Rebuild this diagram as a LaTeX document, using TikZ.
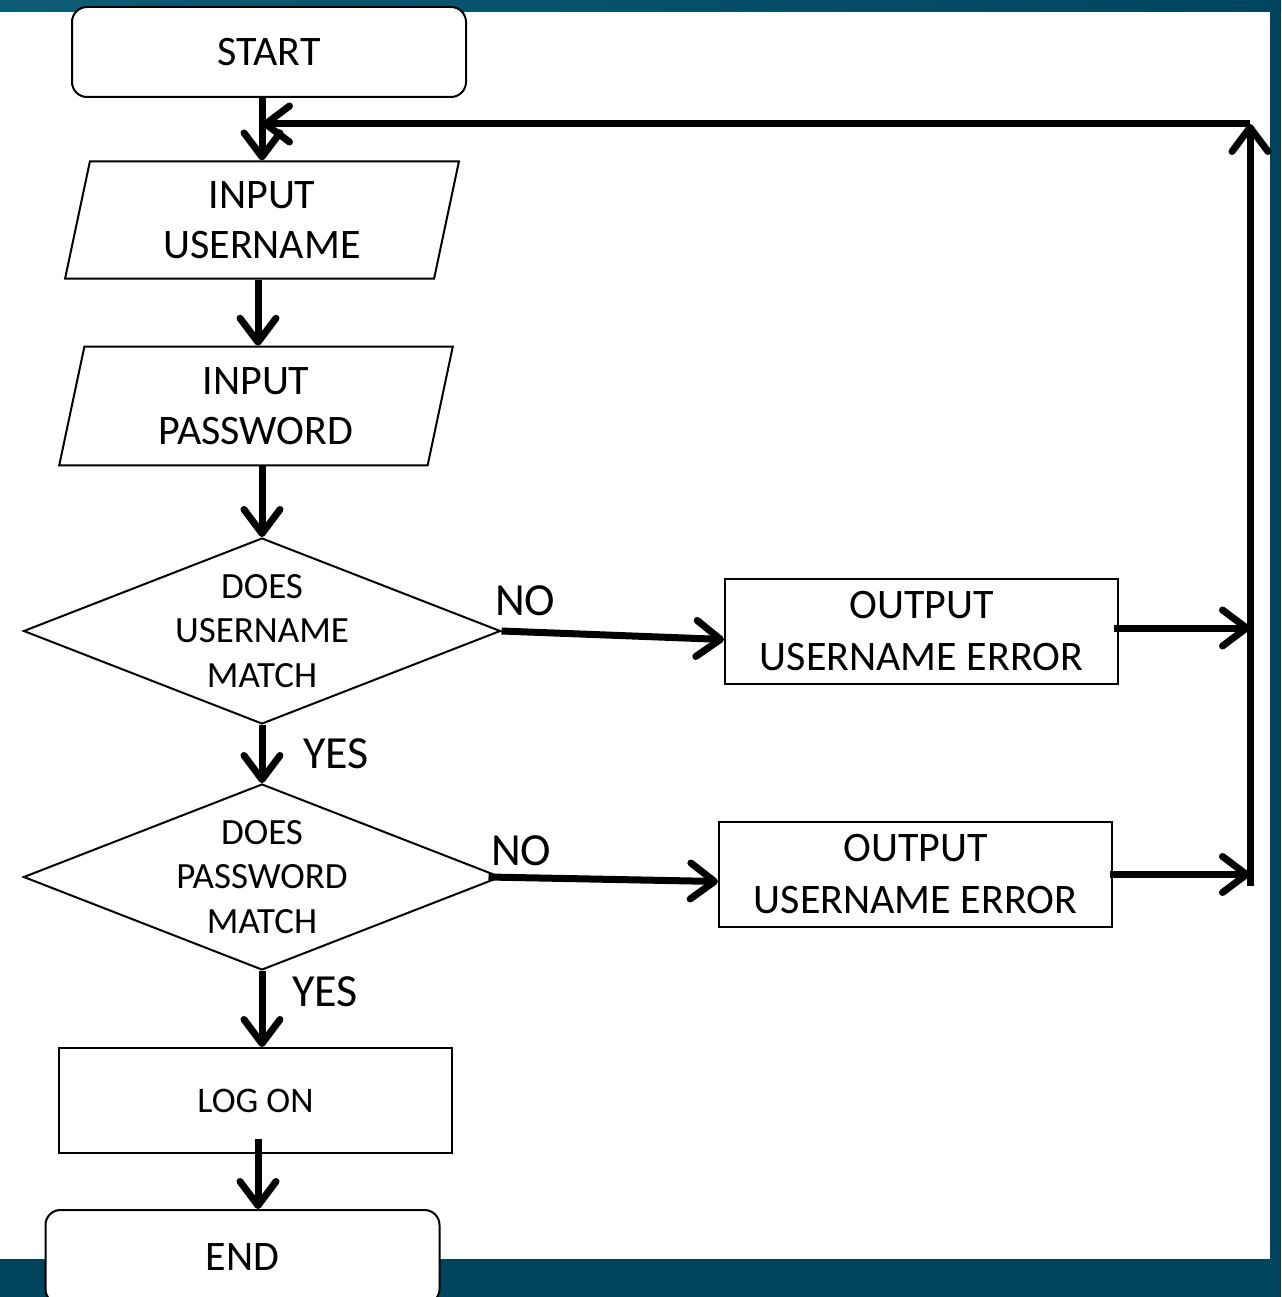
\documentclass[tikz,border=0pt]{standalone}
\usepackage{fontspec}
\setmainfont{Carlito}
\usetikzlibrary{shapes.geometric, arrows.meta}
\definecolor{slidebg}{HTML}{00445E}
\definecolor{slidetop}{HTML}{0D5C75}
\tikzstyle{startstop} = [rectangle, rounded corners=15pt, minimum width=394pt, minimum height=90pt, text centered, draw=black, line width=2pt, fill=white, font=\fontsize{42}{50}\selectfont]
\tikzstyle{io} = [trapezium, trapezium left angle=78, trapezium right angle=102, inner ysep=-4pt, minimum width=394pt, minimum height=112pt, text centered, align=center, draw=black, line width=2pt, fill=white, font=\fontsize{42}{50}\selectfont]
\tikzstyle{process} = [rectangle, minimum width=393pt, minimum height=105pt, text centered, align=center, draw=black, line width=2pt, fill=white, font=\fontsize{42}{52}\selectfont]
\tikzstyle{smallprocess} = [process, font=\fontsize{36}{44}\selectfont]
\tikzstyle{decision} = [diamond, aspect=2.56, inner sep=-4pt, minimum width=477pt, minimum height=186pt, text centered, align=center, draw=black, line width=2pt, fill=white, font=\fontsize{37}{44.5}\selectfont]
\tikzstyle{arrow} = [line width=7pt, -{Straight Barb[length=24pt, width=36pt, round]}]
\tikzstyle{branch} = [inner sep=0pt, font=\fontsize{46}{50}\selectfont]

\begin{document}
\begin{tikzpicture}[x=1pt, y=-1pt]
\fill[slidebg] (0,0) rectangle (1281,1297);
\shade[left color=slidetop, right color=slidebg] (0,0) rectangle (1281,12);
\fill[white] (0,12) rectangle (1270,1259);
\useasboundingbox (0,0) rectangle (1281,1297);

\node (start) [startstop] at (269,52) {START};
\node (inU) [io] at (262,220) {INPUT\\USERNAME};
\node (inP) [io] at (256,406) {INPUT\\PASSWORD};
\node (d1) [decision] at (262,631) {DOES\\USERNAME\\MATCH};
\node (d2) [decision] at (262,877) {DOES\\PASSWORD\\MATCH};
\node (log) [smallprocess] at (255.5,1100.5) {LOG ON};
\node (stop) [startstop, minimum height=94pt] at (242.5,1257) {END};

\node (out1) [process] at (921.5,631.5) {OUTPUT\\USERNAME ERROR};
\node (out2) [process] at (915.5,874.5) {OUTPUT\\USERNAME ERROR};

\coordinate (rbot) at (1250,886);
\coordinate (rtop) at (1250,124);
\coordinate (back) at (262,124);

\draw [arrow] (inU.center |- start.south) -- (inU.north -| inU.center);
\draw [arrow] ([xshift=-4pt]inU.center |- inU.south) -- ([xshift=-4pt]inU.center |- inP.north);
\draw [arrow] (inP.south -| d1.north) -- (d1.north);
\draw [arrow] (d1.south) -- node[branch, right=38pt] {YES} (d2.north);
\draw [arrow] (d2.south) -- node[branch, right=27pt, pos=0.27] {YES} (d2.south |- log.north);
\draw [arrow] ([xshift=2.5pt, yshift=15pt]log.south) -- ([xshift=2.5pt]log.south |- stop.north);

\draw [arrow] (d1.east) -- node[branch, above right, pos=0, xshift=-10pt, yshift=12pt] {NO} ([yshift=-8pt]out1.west);
\draw [arrow] ([xshift=-13pt]d2.east) -- node[branch, above right, pos=0, xshift=-1pt, yshift=8pt] {NO} ([yshift=-7pt]out2.west);

\draw [arrow] ([xshift=-5pt, yshift=3.5pt]out1.east) -- ([yshift=3.5pt]out1.east -| rtop);
\draw [arrow] ([xshift=-3pt]out2.east) -- (out2.east -| rtop);
\draw [arrow] (rbot) -- (rtop);
\draw [arrow] (rtop) -- (back);
\end{tikzpicture}
\end{document}
